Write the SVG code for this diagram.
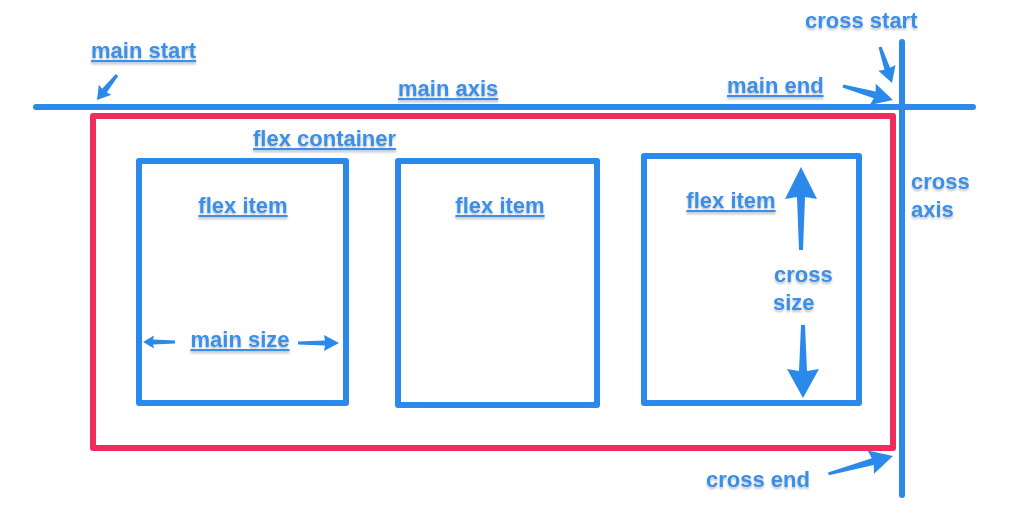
<svg xmlns="http://www.w3.org/2000/svg" width="1024" height="528" viewBox="0 0 1024 528">
<defs>
<filter id="sh" x="-10%" y="-30%" width="120%" height="160%">
<feDropShadow dx="0" dy="2" stdDeviation="1.2" flood-color="#000" flood-opacity="0.25"/>
</filter>
</defs>
<style>
.lbl{font-family:"Liberation Sans",Arial,sans-serif;font-weight:bold;font-size:22px;fill:#3a8fe8;filter:url(#sh)}
.u{text-decoration:underline}
.box{fill:none;stroke:#2b89ea;stroke-width:6;stroke-linejoin:round}
.axis{stroke:#2b89ea;stroke-width:6;stroke-linecap:round}
.arr{fill:#2b89ea}
</style>
<rect width="1024" height="528" fill="#ffffff"/>
<g id="axes">
<line class="axis" x1="36" y1="107" x2="973" y2="107"/>
<line class="axis" x1="902" y1="42" x2="902" y2="495"/>
</g>
<g id="flex-container">
<rect x="93" y="116" width="800" height="332" fill="none" stroke="#ee2d5c" stroke-width="6" stroke-linejoin="round"/>
<text class="lbl u" x="253" y="146">flex container</text>
</g>
<g id="item1">
<rect class="box" x="139" y="161" width="207" height="242"/>
<text class="lbl u" x="243" y="213" text-anchor="middle">flex item</text>
<text class="lbl u" x="240" y="347" text-anchor="middle">main size</text>
</g>
<g id="item2">
<rect class="box" x="398" y="161" width="199" height="244"/>
<text class="lbl u" x="500" y="213" text-anchor="middle">flex item</text>
</g>
<g id="item3">
<rect class="box" x="644" y="156" width="215" height="247"/>
<text class="lbl u" x="731" y="208" text-anchor="middle">flex item</text>
<text class="lbl" x="774" y="282">cross</text>
<text class="lbl" x="773" y="310">size</text>
</g>
<g id="labels">
<text class="lbl u" x="91" y="58">main start</text>
<text class="lbl u" x="398" y="96">main axis</text>
<text class="lbl u" x="727" y="93">main end</text>
<text class="lbl" x="805" y="28">cross start</text>
<text class="lbl" x="911" y="189">cross</text>
<text class="lbl" x="911" y="217">axis</text>
<text class="lbl" x="706" y="487">cross end</text>
</g>
<g id="connectors">
<path class="arr" transform="translate(97,100) rotate(128.66)" d="M-32,-1.5 L-12,-3 L-13,-8 L0,0 L-13,8 L-12,3 L-32,1.5 Z"/>
<path class="arr" transform="translate(892,83) rotate(71.6)" d="M-38,-1.5 L-15,-3 L-16,-9 L0,0 L-16,9 L-15,3 L-38,1.5 Z"/>
<path class="arr" transform="translate(893,100) rotate(15.6)" d="M-52,-1.5 L-19,-3.5 L-21,-11 L0,0 L-21,11 L-19,3.5 L-52,1.5 Z"/>
<path class="arr" transform="translate(893,456) rotate(-15.5)" d="M-67,-1.5 L-21,-3.5 L-23,-12 L0,0 L-23,12 L-21,3.5 L-67,1.5 Z"/>
<path class="arr" transform="translate(143,342) rotate(180)" d="M-32,-1.5 L-10,-2.5 L-11,-6.5 L0,0 L-11,6.5 L-10,2.5 L-32,1.5 Z"/>
<path class="arr" transform="translate(339,343)" d="M-41,-1.5 L-14,-2.5 L-15,-8 L0,0 L-15,8 L-14,2.5 L-41,1.5 Z"/>
<path class="arr" transform="translate(801,167) rotate(-90)" d="M-83,-2 L-30,-4 L-32,-16 L0,0 L-32,16 L-30,4 L-83,2 Z"/>
<path class="arr" transform="translate(803,398) rotate(90)" d="M-73,-2 L-27,-4 L-29,-16 L0,0 L-29,16 L-27,4 L-73,2 Z"/>
</g>
</svg>
